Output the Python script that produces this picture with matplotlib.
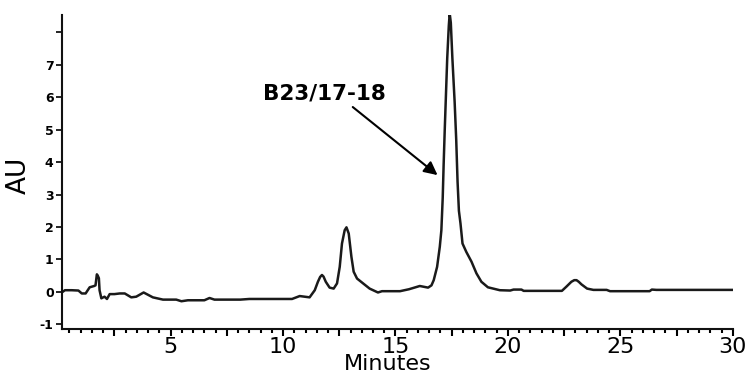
import matplotlib
matplotlib.use("Agg")
import matplotlib.pyplot as plt
from matplotlib.ticker import MultipleLocator, FuncFormatter, FixedLocator

# Chromatogram trace (time in minutes, absorbance in AU)
minutes = [0.2, 0.3, 0.6, 0.9, 1.05, 1.22, 1.4, 1.6, 1.66, 1.72, 1.76, 1.81, 1.84, 1.92,
           2.06, 2.17, 2.29, 2.5, 2.74, 2.96, 3.25, 3.47, 3.8, 4.21, 4.66, 5.25, 5.48,
           5.77, 6.5, 6.73, 6.95, 8.1, 8.5, 10.4, 10.74, 11.18, 11.41, 11.55, 11.65,
           11.73, 11.8, 11.9, 12.07, 12.25, 12.4, 12.52, 12.62, 12.74, 12.82, 12.92,
           13.04, 13.14, 13.29, 13.56, 13.85, 14.22, 14.4, 15.2, 15.6, 16.08, 16.45,
           16.6, 16.7, 16.85, 16.97, 17.04, 17.1, 17.14, 17.19, 17.25, 17.3, 17.37,
           17.41, 17.46, 17.53, 17.63, 17.7, 17.76, 17.82, 17.89, 17.98, 18.15, 18.38,
           18.6, 18.82, 19.11, 19.64, 20.1, 20.25, 20.6, 20.7, 22.4, 22.6, 22.82, 22.95,
           23.05, 23.15, 23.27, 23.52, 23.8, 24.39, 24.54, 26.3, 26.4, 26.6, 30.0]
au = [0.0, 0.05, 0.05, 0.04, -0.05, -0.05, 0.14, 0.18, 0.2, 0.54, 0.5, 0.42, 0.05, -0.2,
      -0.15, -0.22, -0.07, -0.07, -0.05, -0.05, -0.17, -0.15, -0.02, -0.17, -0.24, -0.24,
      -0.29, -0.26, -0.26, -0.19, -0.24, -0.24, -0.22, -0.22, -0.13, -0.17, 0.05, 0.31,
      0.46, 0.52, 0.47, 0.31, 0.13, 0.1, 0.26, 0.77, 1.49, 1.9, 1.99, 1.8, 1.08, 0.62,
      0.41, 0.26, 0.1, -0.02, 0.02, 0.02, 0.08, 0.18, 0.13, 0.2, 0.36, 0.77, 1.39,
      1.9, 2.9, 3.9, 5.0, 6.2, 7.2, 8.2, 8.59, 8.3, 7.2, 5.86, 4.7, 3.4, 2.5, 2.11,
      1.49, 1.23, 0.93, 0.57, 0.31, 0.14, 0.05, 0.04, 0.07, 0.07, 0.03, 0.03, 0.16,
      0.31, 0.36, 0.36, 0.31, 0.23, 0.1, 0.06, 0.06, 0.02, 0.02, 0.07, 0.06, 0.06]

peak_label = "B23/17-18"
x_label = "Minutes"
y_label = "AU"
y_ticks = [-1, 0, 1, 2, 3, 4, 5, 6, 7, 8]
y_tick_labels = ["-1", "0", "1", "2", "3", "4", "5", "6", "7", ""]

fig = plt.figure(figsize=(7.47, 3.74), dpi=100)
ax = fig.add_axes([0.083, 0.120, 0.898, 0.840])

ax.plot(minutes, au, color="#1a1a1a", lw=1.8, solid_joinstyle="round")

ax.set_xlim(0.17, 30)
ax.set_ylim(-1.15, 8.54)

for s in ["top", "right"]:
    ax.spines[s].set_visible(False)
for s in ["left", "bottom"]:
    ax.spines[s].set_linewidth(1.5)
    ax.spines[s].set_color("#111111")

ax.xaxis.set_major_locator(MultipleLocator(2.5))
ax.xaxis.set_minor_locator(MultipleLocator(0.5))
ax.xaxis.set_major_formatter(FuncFormatter(
    lambda v, p: f"{int(round(v))}" if abs(v / 5 - round(v / 5)) < 1e-6 and v > 0 else ""))
ax.tick_params(axis="x", which="major", length=5, width=1.5, labelsize=16, pad=1)
ax.tick_params(axis="x", which="minor", length=3, width=1.5)

ax.yaxis.set_major_locator(FixedLocator(y_ticks))
ax.set_yticklabels(y_tick_labels, fontweight="bold", fontsize=9)
ax.tick_params(axis="y", which="major", length=4, width=1.2, pad=2)

ax.set_xlabel(x_label, fontsize=16)
ax.xaxis.set_label_coords(0.485, -0.078)
ax.set_ylabel(y_label, fontsize=19)
ax.yaxis.set_label_coords(-0.045, 0.49)

ax.annotate("", xy=(16.87, 3.6), xytext=(13.1, 5.7),
            arrowprops=dict(arrowstyle="-|>", mutation_scale=20, lw=1.5,
                            color="black", shrinkA=0, shrinkB=0))
ax.text(9.09, 5.92, peak_label, fontsize=15.5, fontweight="bold",
        ha="left", va="baseline")

fig.savefig("out.png", dpi=100)
